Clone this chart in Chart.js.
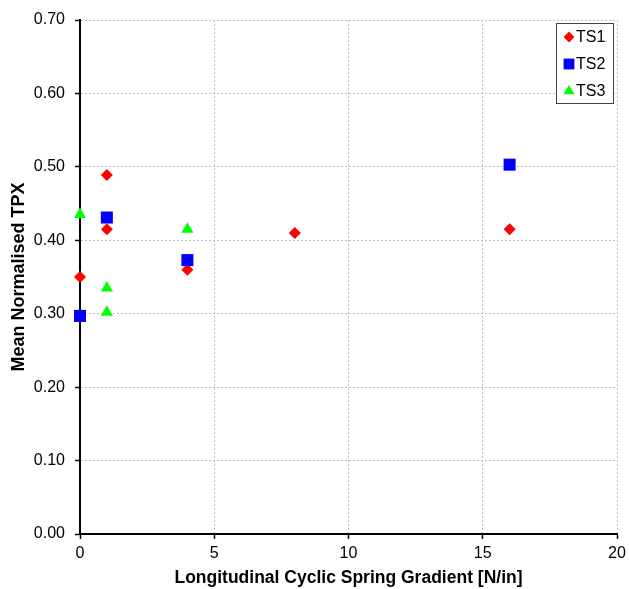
<!DOCTYPE html>
<html>
<head>
<meta charset="utf-8">
<script src="https://cdn.jsdelivr.net/npm/chart.js@4/dist/chart.umd.min.js"></script>
<style>
  html, body { margin: 0; padding: 0; background: #fff; }
</style>
</head>
<body>
<canvas id="myChart" width="629" height="589"></canvas>
<script>
// values
var ts1X = [0, 1, 1, 4, 8, 16]
var ts1Y = [0.350, 0.489, 0.415, 0.360, 0.410, 0.415]
var ts2X = [0, 1, 4, 16]
var ts2Y = [0.297, 0.431, 0.373, 0.503]
var ts3X = [0, 1, 1, 4]
var ts3Y = [0.435, 0.335, 0.302, 0.415]
var seriesNames = ['TS1', 'TS2', 'TS3']

function pts(xs, ys) {
  return xs.map((x, i) => ({ x: x, y: ys[i] }))
}

Chart.defaults.font.family = "'Liberation Sans', Arial, sans-serif"
Chart.defaults.color = '#000'

// legend box drawn inside the plot, top right
const boxLegend = {
  id: 'boxLegend',
  afterDatasetsDraw(chart) {
    const ctx = chart.ctx
    const area = chart.chartArea
    const w = 57, h = 80
    const left = area.right - 61, top = area.top + 3
    ctx.save()
    ctx.fillStyle = '#fff'
    ctx.fillRect(left, top, w, h)
    ctx.strokeStyle = '#444'
    ctx.lineWidth = 1
    ctx.strokeRect(left + 0.5, top + 0.5, w, h)
    ctx.font = "16px 'Liberation Sans', Arial, sans-serif"
    ctx.textBaseline = 'middle'
    chart.data.datasets.forEach((ds, i) => {
      const y = top + 14 + i * 27
      ctx.fillStyle = ds.backgroundColor
      ctx.strokeStyle = ds.borderColor
      Chart.helpers.drawPoint(ctx, {
        pointStyle: ds.pointStyle,
        radius: ds.pointRadius * 0.9,
        rotation: 0,
        borderWidth: 0
      }, left + 13, y)
      ctx.fillStyle = '#000'
      ctx.fillText(ds.label, left + 20, y + 1)
    })
    ctx.restore()
  }
}

const ctx = document.getElementById('myChart')
new Chart(ctx, {
  type: 'scatter',
  data: {
    datasets: [
      {
        label: seriesNames[0],
        data: pts(ts1X, ts1Y),
        pointStyle: 'rectRot',
        pointRadius: 6,
        backgroundColor: '#ff0000',
        borderColor: '#ff0000',
        borderWidth: 0,
        clip: false,
        order: 3
      },
      {
        label: seriesNames[1],
        data: pts(ts2X, ts2Y),
        pointStyle: 'rect',
        pointRadius: 8.5,
        backgroundColor: '#0000ff',
        borderColor: '#0000ff',
        borderWidth: 0,
        clip: false,
        order: 2
      },
      {
        label: seriesNames[2],
        data: pts(ts3X, ts3Y),
        pointStyle: 'triangle',
        pointRadius: 7,
        backgroundColor: '#00ff00',
        borderColor: '#00ff00',
        borderWidth: 0,
        clip: false,
        order: 1
      }
    ]
  },
  options: {
    responsive: false,
    animation: false,
    layout: { padding: { left: 0, right: 12, top: 20, bottom: 0 } },
    plugins: {
      legend: { display: false },
      tooltip: { enabled: false }
    },
    scales: {
      x: {
        type: 'linear',
        min: 0,
        max: 20,
        ticks: { stepSize: 5, padding: 5, font: { size: 16 } },
        grid: { color: '#c0c0c0', tickColor: '#000', tickLength: 5, tickWidth: 1.5, tickBorderDash: [] },
        border: { color: '#000', width: 2, dash: [2, 2] },
        title: {
          display: true,
          text: 'Longitudinal Cyclic Spring Gradient [N/in]',
          font: { size: 17.5, weight: 'bold' },
          padding: { top: -2, bottom: 0 }
        },
        afterFit(scale) {
          scale.height = 55
          scale.paddingRight = 12
          scale.paddingLeft = 0
        }
      },
      y: {
        min: 0,
        max: 0.7,
        ticks: {
          stepSize: 0.1,
          padding: 10,
          font: { size: 16 },
          callback: v => v.toFixed(2)
        },
        grid: { color: '#c0c0c0', tickColor: '#000', tickLength: 5, tickWidth: 1.5, tickBorderDash: [] },
        border: { color: '#000', width: 2, dash: [2, 2] },
        title: {
          display: true,
          text: 'Mean Normalised TPX',
          font: { size: 18, weight: 'bold' },
          padding: { top: 8, bottom: 0 }
        },
        afterFit(scale) { scale.width = 80 }
      }
    }
  },
  plugins: [boxLegend]
})
</script>
</body>
</html>
